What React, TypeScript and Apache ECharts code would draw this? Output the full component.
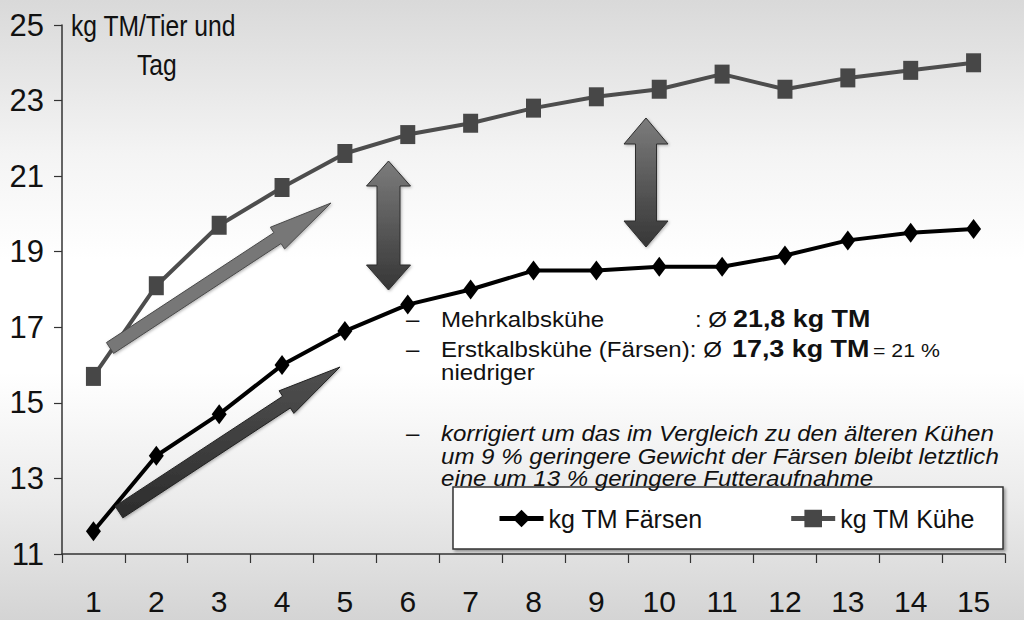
import { useEffect, useRef } from 'react';
import * as echarts from 'echarts';

// x categories (1..15) and daily dry-matter intake per series
const weeks = ['1', '2', '3', '4', '5', '6', '7', '8', '9', '10', '11', '12', '13', '14', '15'];
const faersen = [11.6, 13.6, 14.7, 16.0, 16.9, 17.6, 18.0, 18.5, 18.5, 18.6, 18.6, 18.9, 19.3, 19.5, 19.6];
const kuehe = [15.7, 18.1, 19.7, 20.7, 21.6, 22.1, 22.4, 22.8, 23.1, 23.3, 23.7, 23.3, 23.6, 23.8, 24.0];
const seriesNames = ['kg TM Färsen', 'kg TM Kühe'];
const yMin = 11;
const yMax = 25;
const yStep = 2;

const SANS = '"Liberation Sans", Arial, sans-serif';
const STRETCH = 1.12;

type Pt = [number, number];

// straight arrow polygon from tail to tip
function arrowPoly(x1: number, y1: number, x2: number, y2: number, shaft: number, head: number, headLen: number): Pt[] {
  const len = Math.hypot(x2 - x1, y2 - y1);
  const ux = (x2 - x1) / len;
  const uy = (y2 - y1) / len;
  const px = -uy;
  const py = ux;
  const bx = x2 - ux * headLen;
  const by = y2 - uy * headLen;
  const s = shaft / 2;
  const h = head / 2;
  return [
    [x1 + px * s, y1 + py * s],
    [bx + px * s, by + py * s],
    [bx + px * h, by + py * h],
    [x2, y2],
    [bx - px * h, by - py * h],
    [bx - px * s, by - py * s],
    [x1 - px * s, y1 - py * s],
  ];
}

function doubleArrowPoly(cx: number, top: number, bottom: number, shaft: number, head: number, headLen: number): Pt[] {
  const s = shaft / 2;
  const h = head / 2;
  return [
    [cx, top],
    [cx + h, top + headLen],
    [cx + s, top + headLen],
    [cx + s, bottom - headLen],
    [cx + h, bottom - headLen],
    [cx, bottom],
    [cx - h, bottom - headLen],
    [cx - s, bottom - headLen],
    [cx - s, top + headLen],
    [cx - h, top + headLen],
  ];
}

const vGrad = (a: string, b: string) => ({
  type: 'linear',
  x: 0,
  y: 0,
  x2: 0,
  y2: 1,
  colorStops: [
    { offset: 0, color: a },
    { offset: 1, color: b },
  ],
});

function txt(x: number, y: number, text: string, font: Record<string, unknown>, scaleX = STRETCH) {
  return {
    type: 'text',
    x,
    y,
    scaleX,
    z: 20,
    style: { text, fill: '#111', verticalAlign: 'middle', ...font },
  };
}

const reg = { fontFamily: SANS, fontSize: 21.5 };
const bold = { fontFamily: SANS, fontSize: 24, fontWeight: 'bold' };
const ital = { fontFamily: SANS, fontSize: 21.5, fontStyle: 'italic' };
const title = { fontFamily: SANS, fontSize: 29 };
const shadow = { shadowBlur: 3, shadowColor: 'rgba(0,0,0,0.3)', shadowOffsetX: 1, shadowOffsetY: 1 };

export default function App() {
  const ref = useRef<HTMLDivElement>(null);

  useEffect(() => {
    if (!ref.current) return;
    const chart = echarts.init(ref.current, undefined, { renderer: 'svg' });

    const graphic = [
      txt(71, 26.5, 'kg TM/Tier und', title, 0.85),
      txt(137, 65.5, 'Tag', title, 0.85),
      // trend arrows
      {
        type: 'polygon', z: 15,
        shape: { points: arrowPoly(110, 348, 331, 203, 13, 26, 64) },
        style: { fill: '#777', stroke: '#4a4a4a', lineWidth: 1, ...shadow },
      },
      {
        type: 'polygon', z: 15,
        shape: { points: arrowPoly(119, 512, 340, 367, 14, 27, 64) },
        style: { fill: vGrad('#505050', '#2c2c2c'), stroke: '#222', lineWidth: 1, ...shadow },
      },
      {
        type: 'polygon', z: 15,
        shape: { points: doubleArrowPoly(388.5, 161, 290, 23, 44, 25) },
        style: { fill: vGrad('#7c7c7c', '#363636'), stroke: '#2e2e2e', lineWidth: 1, ...shadow },
      },
      {
        type: 'polygon', z: 15,
        shape: { points: doubleArrowPoly(646, 118, 247, 21, 44, 26) },
        style: { fill: vGrad('#7c7c7c', '#363636'), stroke: '#2e2e2e', lineWidth: 1, ...shadow },
      },
      // text block
      txt(406, 319.5, '–', reg),
      txt(441, 319.5, 'Mehrkalbskühe', reg),
      txt(695, 319.5, ': Ø', reg),
      txt(733, 318.6, '21,8 kg TM', bold),
      txt(406, 349.5, '–', reg),
      txt(441, 349.5, 'Erstkalbskühe (Färsen): Ø', reg),
      txt(732, 348.6, '17,3 kg TM', bold),
      txt(873, 350.3, '= 21 %', { fontFamily: SANS, fontSize: 19 }),
      txt(441, 372.5, 'niedriger', reg),
      txt(406, 433.5, '–', reg),
      txt(441, 433.5, 'korrigiert um das im Vergleich zu den älteren Kühen', ital),
      txt(441, 456, 'um 9 % geringere Gewicht der Färsen bleibt letztlich', ital),
      txt(441, 478.5, 'eine um 13 % geringere Futteraufnahme', ital),
      // legend box
      {
        type: 'rect', z: 18,
        shape: { x: 453, y: 487, width: 550, height: 62 },
        style: { fill: '#fff', stroke: '#333', lineWidth: 1.5, shadowBlur: 3, shadowColor: 'rgba(0,0,0,0.35)', shadowOffsetX: 2, shadowOffsetY: 2 },
      },
    ];

    chart.setOption({
      animation: false,
      backgroundColor: 'transparent',
      grid: { left: 62, right: 19, top: 25, bottom: 66 },
      legend: {
        left: 497,
        top: 506,
        z: 25,
        padding: 0,
        itemWidth: 44,
        itemHeight: 22,
        itemGap: 86,
        lineStyle: { width: 5 },
        textStyle: { fontFamily: SANS, fontSize: 25, color: '#111' },
        data: seriesNames,
      },
      graphic,
      xAxis: {
        type: 'category',
        data: weeks,
        boundaryGap: true,
        axisLine: { lineStyle: { color: '#333', width: 1.5 } },
        axisTick: { show: true, length: 9, lineStyle: { color: '#333', width: 1.2 } },
        axisLabel: { color: '#111', fontFamily: SANS, fontSize: 30, margin: 32 },
        splitLine: { show: false },
      },
      yAxis: {
        type: 'value',
        min: yMin,
        max: yMax,
        interval: yStep,
        axisLine: { show: true, lineStyle: { color: '#333', width: 1.5 } },
        axisTick: { show: true, length: 8, lineStyle: { color: '#333', width: 1.2 } },
        axisLabel: { color: '#111', fontFamily: SANS, fontSize: 31, margin: 18 },
        splitLine: { show: false },
      },
      series: [
        {
          name: seriesNames[0],
          type: 'line',
          data: faersen,
          symbol: 'diamond',
          symbolSize: [15, 20],
          z: 4,
          lineStyle: { color: '#000', width: 4 },
          itemStyle: { color: '#000' },
        },
        {
          name: seriesNames[1],
          type: 'line',
          data: kuehe,
          symbol: 'rect',
          symbolSize: [15, 19],
          z: 3,
          lineStyle: { color: '#4d4d4d', width: 4 },
          itemStyle: { color: '#474747' },
        },
      ],
    });

    return () => chart.dispose();
  }, []);

  return (
    <div
      ref={ref}
      style={{
        position: 'fixed',
        left: 0,
        top: 0,
        width: 1024,
        height: 620,
        background:
          'linear-gradient(to bottom, #d9d9d9 0%, #f4f4f4 25%, #ffffff 42%, #ffffff 60%, #ececec 80%, #d4d4d4 100%)',
      }}
    />
  );
}
